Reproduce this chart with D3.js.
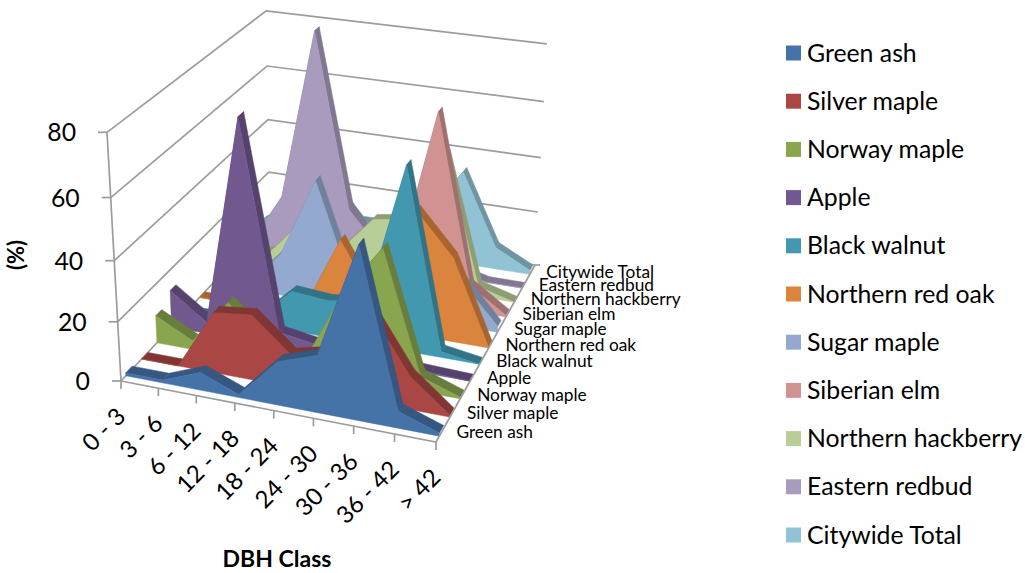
<!DOCTYPE html>
<html><head><meta charset="utf-8">
<script src="https://cdn.jsdelivr.net/npm/d3@7"></script>
<style>html,body{margin:0;padding:0;background:#fff}svg{display:block}text{font-family:Lato,Carlito,sans-serif;fill:#000}</style>
</head><body><svg id="c" width="1025" height="573"></svg>
<script>
const categories=["0 - 3","3 - 6","6 - 12","12 - 18","18 - 24","24 - 30","30 - 36","36 - 42","> 42"];
const seriesNames=["Green ash","Silver maple","Norway maple","Apple","Black walnut","Northern red oak","Sugar maple","Siberian elm","Northern hackberry","Eastern redbud","Citywide Total"];
const colors=["#4572A7","#AA4643","#89A54E","#71588F","#4198AF","#DB843D","#93A9CF","#D19392","#B9CD96","#A99BBD","#91C3D5"];
const greenAsh=[1,1,6,1,14.5,19,56,5.5,1];
const silverMaple=[0,0,20.5,22,11,14,30,11,0.5];
const norwayMaple=[9.5,3,18.5,8,3,28,45,5,0.5];
const apple=[13,4,75,5,3,1,1,0.5,0];
const blackWalnut=[0,0,2,14,13,15,62.5,2,0];
const northernRedOak=[0,0,0,3,29,8,43,29,0];
const sugarMaple=[0,2,15,43,8,10,25,16,2];
const siberianElm=[0,0,0,0,2,14,67.5,9,0.5];
const northernHackberry=[0,4,18,8,22,24,49,3.5,0];
const easternRedbud=[0,20,81.5,19,5,3,3,0,0];
const citywideTotal=[4,12,25,10,10,17,34,8,1.5];
const allValues=[greenAsh,silverMaple,norwayMaple,apple,blackWalnut,northernRedOak,sugarMaple,siberianElm,northernHackberry,easternRedbud,citywideTotal];

const svg=d3.select("#c");
const xS=d3.scalePoint().domain(categories).range([0,1]);
const zS=d3.scaleBand().domain(seriesNames).range([0,1]).paddingInner(0.6).paddingOuter(0.3);
const vS=d3.scaleLinear().domain([0,80]).range([0,1]);

// perspective camera fitted to the plot box corners
const A=[121,381],B=[436,442],C=[535,265],D=[269.5,223];
const dx1=B[0]-C[0],dx2=D[0]-C[0],dx3=A[0]-B[0]+C[0]-D[0];
const dy1=B[1]-C[1],dy2=D[1]-C[1],dy3=A[1]-B[1]+C[1]-D[1];
const den=dx1*dy2-dx2*dy1;
const g=(dx3*dy2-dx2*dy3)/den,h=(dx1*dy3-dx3*dy1)/den;
const a=B[0]-A[0]+g*B[0],b=D[0]-A[0]+h*D[0],c0=A[0];
const d=B[1]-A[1]+g*B[1],e=D[1]-A[1]+h*D[1],f=A[1];
const cw=-0.0628,cx=-20.7,cy=-257;
function proj(u,w,t){const W=g*u+h*w+1+cw*t;return [(a*u+b*w+c0+cx*t)/W,(d*u+e*w+f+cy*t)/W];}
const P=(cat,z,v)=>proj(xS(cat),z,vS(v));
const poly=d3.line();

const axisCol="#9c9c9c";
const gGrid=svg.append("g").attr("fill","none").attr("stroke",axisCol).attr("stroke-width",1.7);
vS.ticks(4).forEach(v=>{
  const t=vS(v);
  gGrid.append("path").attr("d",poly([proj(0,0,t),proj(0,1,t),proj(1,1,t)]));
  const p=proj(0,0,t);
  gGrid.append("path").attr("d",poly([[p[0]-9,p[1]],p]));
  svg.append("text").attr("x",p[0]-31).attr("y",p[1]+9).attr("text-anchor","end").attr("font-size",24.8).text(v);
});
gGrid.append("path").attr("d",poly([proj(0,0,0),proj(0,0,1)]));

// areas back to front
seriesNames.map((n,i)=>i).reverse().forEach(i=>{
  const name=seriesNames[i],vals=allValues[i],col=colors[i];
  const z0=zS(name),z1=z0+zS.bandwidth();
  const dark=d3.color(col).darker(0.75).formatHex();
  const gs=svg.append("g");
  categories.slice(0,-1).forEach((cat,j)=>{
    const nx=categories[j+1];
    gs.append("path").attr("fill",dark).attr("stroke",dark).attr("stroke-width",0.5)
      .attr("d",poly([P(cat,z0,vals[j]),P(nx,z0,vals[j+1]),P(nx,z1,vals[j+1]),P(cat,z1,vals[j])])+"Z");
  });
  const pts=categories.map((cat,j)=>P(cat,z0,vals[j]));
  pts.push(P(categories[8],z0,0),P(categories[0],z0,0));
  gs.append("path").attr("fill",col).attr("stroke",col).attr("stroke-width",0.5).attr("d",poly(pts)+"Z");
});

// floor front and right edges with ticks
const gEdge=svg.append("g").attr("fill","none").attr("stroke",axisCol).attr("stroke-width",1.7);
gEdge.append("path").attr("d",poly([proj(0,0,0),proj(1,0,0),proj(1,1,0)]));
categories.forEach((cat,j)=>{
  const p=P(cat,0,0);
  gEdge.append("path").attr("d",poly([p,[p[0],p[1]+8]]));
  svg.append("text").attr("font-size",24).attr("text-anchor","end")
    .attr("transform",`translate(${p[0]+6},${p[1]+37}) rotate(-45)`).text(cat);
});
seriesNames.forEach((n,i)=>{
  const zc=zS(n)+zS.bandwidth()/2;
  const p=proj(1,zc,0);
  svg.append("text").attr("x",p[0]+15).attr("y",p[1]+6).attr("font-size",17.3).text(n);
});
const pe=proj(1,1,0);
gEdge.append("path").attr("d",poly([pe,[pe[0]+5,pe[1]]]));

svg.append("text").attr("transform","translate(24,255) rotate(-90)").attr("text-anchor","middle")
  .attr("font-size",22).attr("font-weight",700).text("(%)");
svg.append("text").attr("x",277).attr("y",567).attr("text-anchor","middle")
  .attr("font-size",23).attr("font-weight",700).text("DBH Class");

const legY=d3.scalePoint().domain(seriesNames).range([53,535]);
seriesNames.forEach((n,i)=>{
  svg.append("rect").attr("x",786).attr("y",legY(n)-7.5).attr("width",15).attr("height",15).attr("fill",colors[i]);
  svg.append("text").attr("x",807).attr("y",legY(n)+8.5).attr("font-size",24.8).text(n);
});
</script></body></html>
